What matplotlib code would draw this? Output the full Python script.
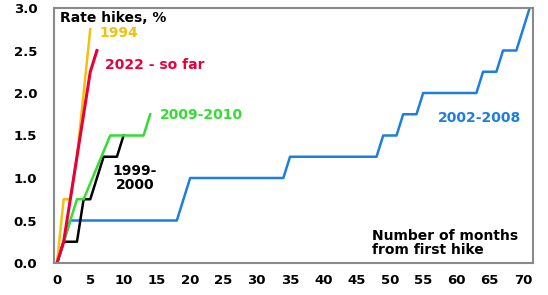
import matplotlib
matplotlib.use('Agg')
import matplotlib.pyplot as plt

matplotlib.rcParams['font.family'] = ['DejaVu Sans']
matplotlib.rcParams['font.weight'] = 'bold'

# months from first hike, cumulative hikes (%)
m_0208 = [0, 2, 18, 20, 34, 35, 48, 49, 51, 52, 54, 55, 63, 64, 66, 67, 69, 71]
v_0208 = [0, 0.5, 0.5, 1.0, 1.0, 1.25, 1.25, 1.5, 1.5, 1.75, 1.75, 2.0, 2.0, 2.25, 2.25, 2.5, 2.5, 3.0]

m_9900 = [0, 1, 3, 4, 5, 7, 9, 10]
v_9900 = [0, 0.25, 0.25, 0.75, 0.75, 1.25, 1.25, 1.5]

m_0910 = [0, 1, 2, 3, 4, 8, 13, 14]
v_0910 = [0, 0.25, 0.5, 0.75, 0.75, 1.5, 1.5, 1.75]

m_1994 = [0, 1, 2, 3, 4, 5]
v_1994 = [0, 0.75, 0.75, 1.25, 2.0, 2.75]

m_2022 = [0, 1, 2, 3, 4, 5, 6]
v_2022 = [0, 0.25, 0.75, 1.25, 1.75, 2.25, 2.5]

c_blue = '#1C7FE0'
c_black = '#000000'
c_green = '#33DD33'
c_yellow = '#F2C00F'
c_red = '#E8003A'

fig = plt.figure(figsize=(5.48, 2.95), dpi=100)
ax = fig.add_axes([54/548, 1 - 263/295, (533-54)/548, (263-8)/295])

ax.plot(m_0208, v_0208, color=c_blue, lw=1.8)
ax.plot(m_9900, v_9900, color=c_black, lw=1.8)
ax.plot(m_0910, v_0910, color=c_green, lw=1.8)
ax.plot(m_1994, v_1994, color=c_yellow, lw=1.8)
ax.plot(m_2022, v_2022, color=c_red, lw=2.2)

ax.set_xlim(-0.45, 71.5)
ax.set_ylim(0, 3.0)
ax.set_xticks(range(0, 71, 5))
ax.set_yticks([0, 0.5, 1.0, 1.5, 2.0, 2.5, 3.0])
ax.set_yticklabels(['0.0', '0.5', '1.0', '1.5', '2.0', '2.5', '3.0'])
ax.tick_params(length=0, labelsize=9.5)
ax.tick_params(axis='y', pad=12)
ax.tick_params(axis='x', pad=8)
for lab in ax.get_xticklabels() + ax.get_yticklabels():
    lab.set_fontweight('bold')
for s in ax.spines.values():
    s.set_color('#8a8a8a')
    s.set_linewidth(1.5)

ax.text(0.45, 2.88, 'Rate hikes, %', fontsize=10, fontweight='bold', va='center')
ax.text(6.45, 2.71, '1994', color=c_yellow, fontsize=10, fontweight='bold', va='center')
ax.text(7.2, 2.33, '2022 - so far', color=c_red, fontsize=10, fontweight='bold', va='center')
ax.text(15.5, 1.74, '2009-2010', color=c_green, fontsize=10, fontweight='bold', va='center')
ax.text(8.4, 1.0, '1999-\n2000', color=c_black, fontsize=10, fontweight='bold', va='center',
        ha='left', multialignment='center', linespacing=1.0)
ax.text(57.2, 1.71, '2002-2008', color=c_blue, fontsize=10, fontweight='bold', va='center')
ax.text(47.3, 0.235, 'Number of months\nfrom first hike', fontsize=10, fontweight='bold',
        va='center', linespacing=1.0)

fig.savefig('out.png', dpi=100)
